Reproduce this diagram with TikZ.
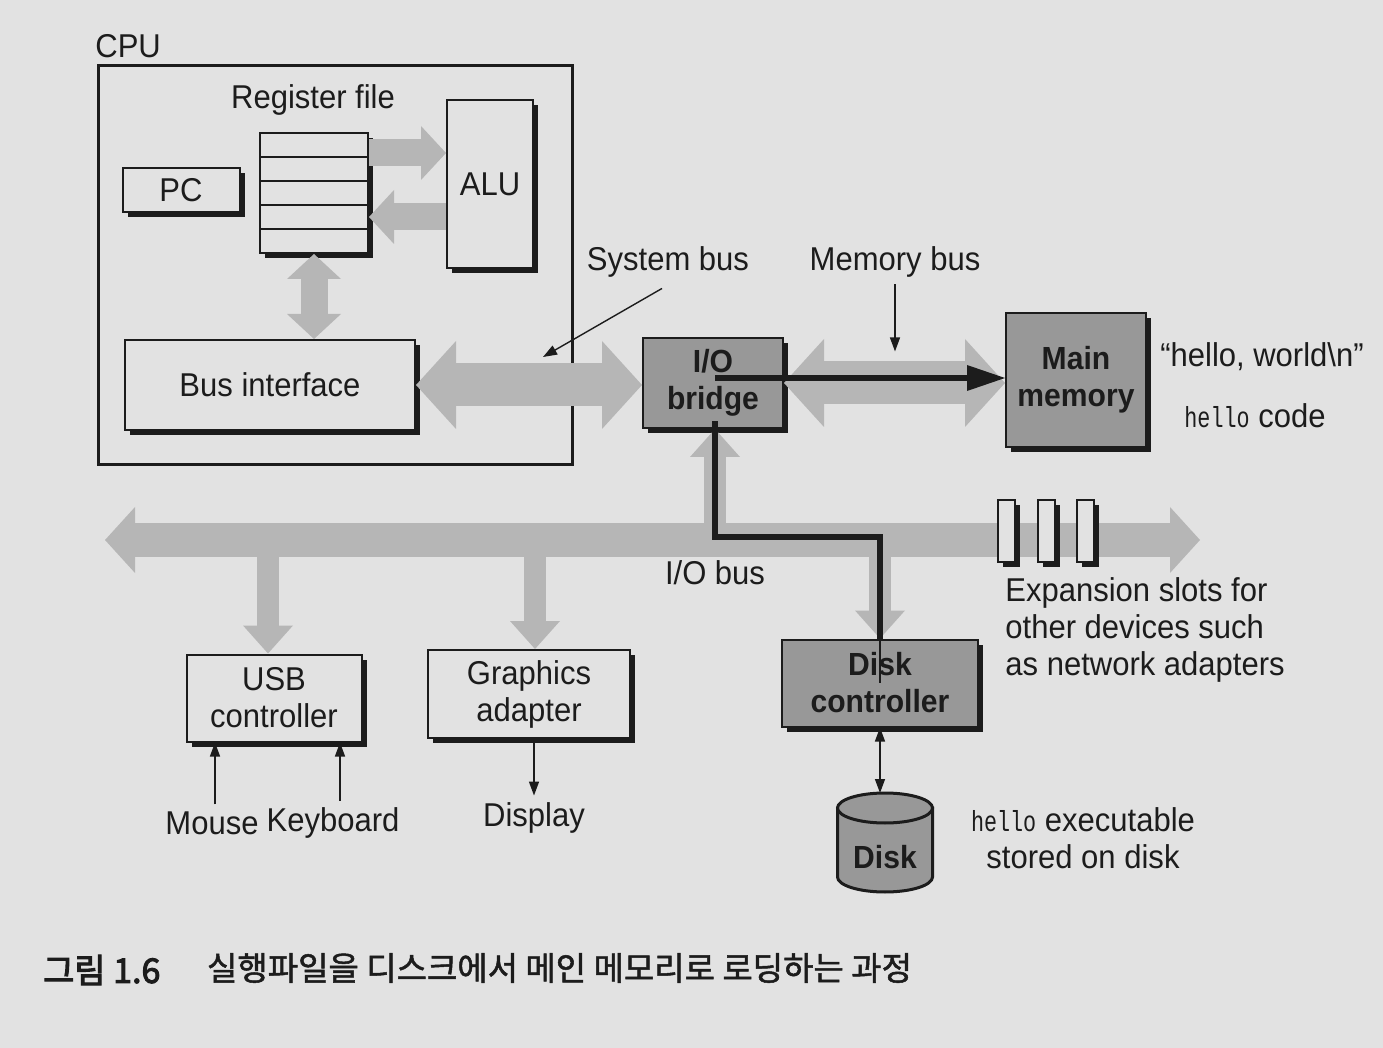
\documentclass[tikz,border=0pt]{standalone}
\usepackage{fontspec}
\setmainfont{Liberation Sans}[FakeStretch=0.94]
\setmonofont{Liberation Mono}[FakeStretch=0.75]
\newfontfamily\krfont{Noto Sans CJK KR}[FakeBold=1.5]
\newfontfamily\krbold{Noto Sans CJK KR}[FakeBold=3]
\usetikzlibrary{arrows.meta,shadows,positioning}
\definecolor{pagegray}{RGB}{226,226,226}
\definecolor{busgray}{RGB}{182,182,182}
\definecolor{boxgray}{RGB}{152,152,152}
\definecolor{inkblack}{RGB}{28,28,28}
\newcommand{\hellott}{{\fontsize{14.5pt}{16pt}\selectfont\ttfamily hello}}

\begin{document}
\begin{tikzpicture}[x=.5pt,y=-.5pt,
  every node/.style={font=\fontsize{16.5pt}{18.5pt}\selectfont,text=inkblack},
  box/.style={draw=inkblack,line width=1pt,fill=pagegray,align=center,inner sep=0pt,
    drop shadow={shadow xshift=2.5pt,shadow yshift=-2.5pt,fill=inkblack,opacity=1}},
  darkbox/.style={box,fill=boxgray,font=\fontsize{16pt}{18.5pt}\selectfont\bfseries},
  sysbus/.style={draw=busgray,line width=21.5pt,
    {Triangle[length=20pt,width=44pt,line width=0pt]}-{Triangle[length=20pt,width=44pt,line width=0pt]}},
  iobus/.style={draw=busgray,line width=17pt,
    {Triangle[length=15pt,width=33pt,line width=0pt]}-{Triangle[length=15pt,width=33pt,line width=0pt]}},
  regbus/.style={draw=busgray,line width=13.5pt},
  regtip/.style={-{Triangle[length=12.5pt,width=27pt,line width=0pt]}},
  branch/.style={draw=busgray,line width=11pt,-{Triangle[length=14pt,width=25pt,line width=0pt]}},
  ptr/.style={draw=inkblack,line width=.7pt,-{Triangle[length=7pt,width=5pt]}},
  loadpath/.style={draw=inkblack,line width=2.6pt}]
  \useasboundingbox (0,0) rectangle (1383,1048);
  \fill[pagegray] (0,0) rectangle (1383,1048);

  % CPU
  \node[draw=inkblack,line width=1.5pt,minimum width=237pt,minimum height=199.5pt] (cpu) at (335,265.5) {};
  \node[anchor=south west,inner sep=0pt] (cpulbl) at (95,58) {CPU};
  \node (rflbl) at (313,100) {Register file};
  \node[box,minimum width=54pt,minimum height=60pt] (rf) at (314,193) {};
  \foreach \yy in {157,181,205,229}
    \draw[inkblack,line width=.8pt] (260,\yy) -- (368,\yy);
  \node[box,minimum width=58.5pt,minimum height=22pt] (pc) at (181,190) {PC};
  \node[box,minimum width=43pt,minimum height=84pt] (alu) at (490,184) {ALU};
  \node[box,minimum width=145pt,minimum height=45pt] (bi) at (270,385) {Bus interface};

  % buses inside the CPU
  \draw[regbus,regtip] ([yshift=20pt]rf.east) -- ([yshift=20pt]rf.east -| alu.west);
  \draw[regbus,regtip] ([yshift=-12pt]rf.east -| alu.west) -- ([yshift=-12pt]rf.east);
  \draw[regbus,{Triangle[length=12.5pt,width=27pt,line width=0pt]}-{Triangle[length=12.5pt,width=27pt,line width=0pt]}]
    (rf.south) -- (rf.south |- bi.north);

  % bridge and memory
  \node[darkbox,minimum width=70pt,minimum height=45pt] (bridge) at (713,383) {I/O\\bridge};
  \node[darkbox,minimum width=70pt,minimum height=67pt] (mem) at (1076,380) {Main\\memory};
  \draw[sysbus] (bi.east) -- (bi.east -| bridge.west);
  \draw[sysbus] (bridge.east) -- (bridge.east -| mem.west);

  \node (sysbuslbl) at (668,262) {System bus};
  \node (membuslbl) at (895,262) {Memory bus};
  \coordinate (sysbuspt) at (543,357);
  \draw[ptr] ([xshift=-3pt,yshift=-2pt]sysbuslbl.south) -- (sysbuspt);
  \draw[ptr] (membuslbl.south) -- ++(0,67);
  \node (hellostr) at (1262,357) {“hello, world\textbackslash n”};
  \node (hellocode) at (1255,416) {\hellott{} code};

  % I/O bus
  \node[box,minimum width=87.5pt,minimum height=43.5pt] (usb) at (274,698) {USB\\controller};
  \node[box,minimum width=101pt,minimum height=44pt] (gfx) at (529,694) {Graphics\\adapter};
  \node[darkbox,minimum width=98pt,minimum height=43.5pt] (dctl) at (880,683) {Disk\\controller};
  \coordinate (iol) at (105,540);
  \coordinate (ior) at (1200,540);
  \draw[branch] ([xshift=-3pt]usb.north |- iol) -- ([xshift=-3pt]usb.north);
  \draw[branch] ([xshift=3pt]gfx.north |- iol) -- ([xshift=3pt]gfx.north);
  \draw[branch] (dctl.north |- iol) -- (dctl.north);
  \draw[branch] ([xshift=1pt]bridge.south |- iol) -- ([xshift=1pt]bridge.south);
  \draw[iobus] (iol) -- (ior);
  \node (iobuslbl) at (715,573) {I/O bus};

  % expansion slots
  \foreach \sx [count=\i] in {1006,1046,1085}
    \node[box,minimum width=8.5pt,minimum height=31pt] (slot\i) at (\sx,531) {};
  \node[anchor=north west,align=left,inner sep=0pt] (slotlbl) at (1005,577)
    {Expansion slots for\\other devices such\\as network adapters};

  % hello loaded from disk to memory
  \draw[loadpath] (dctl.north) |- ([yshift=1.5pt,xshift=1pt]bridge.south |- iol)
    -- ([yshift=4pt,xshift=1pt]bridge.south);
  \draw[loadpath,-{Triangle[length=19pt,width=13pt,line width=0pt]}]
    ([yshift=2.5pt,xshift=1pt]bridge.center) -- ([yshift=2.5pt]bridge.center -| mem.west);
  \draw[inkblack,line width=.6pt] (dctl.north) -- (dctl.center);

  % devices
  \node (mouse) at (212,823) {Mouse};
  \node (kbd) at (333,823) {Keyboard};
  \draw[ptr] ([xshift=1.5pt]mouse.north) -- ([xshift=1.5pt]mouse.north |- usb.south);
  \draw[ptr] ([xshift=3.5pt]kbd.north) -- ([xshift=3.5pt]kbd.north |- usb.south);
  \node (display) at (534,818) {Display};
  \draw[ptr] (display.north |- gfx.south) -- (display.north);

  % disk
  \coordinate (dtop) at (885,808);
  \coordinate (dbot) at (885,877);
  \coordinate (dlid) at (885,793);
  \filldraw[fill=boxgray,draw=inkblack,line width=1.5pt] ([xshift=-23.75pt]dtop) -- ([xshift=-23.75pt]dbot)
    arc[start angle=180,end angle=360,x radius=23.75pt,y radius=7.5pt] -- ([xshift=23.75pt]dtop) -- cycle;
  \filldraw[fill=boxgray,draw=inkblack,line width=1.5pt] (dtop) ellipse[x radius=23.75pt,y radius=7.5pt];
  \node[font=\fontsize{16pt}{18pt}\selectfont\bfseries] (disk) at (885,857) {Disk};
  \draw[draw=inkblack,line width=.7pt,{Triangle[length=7pt,width=5pt]}-{Triangle[length=7pt,width=5pt]}]
    (dctl.south) -- (dctl.south |- dlid);
  \node[align=center] (disklbl) at (1083,838) {\hellott{} executable\\stored on disk};

  % caption
  \node[anchor=west,font=\krbold\fontsize{17pt}{20pt}\selectfont] (fignum) at (36,970) {그림 1.6};
  \node[anchor=west,font=\krfont\fontsize{16.5pt}{20pt}\selectfont] (caption) at (200,968)
    {실행파일을 디스크에서 메인 메모리로 로딩하는 과정};
\end{tikzpicture}
\end{document}
